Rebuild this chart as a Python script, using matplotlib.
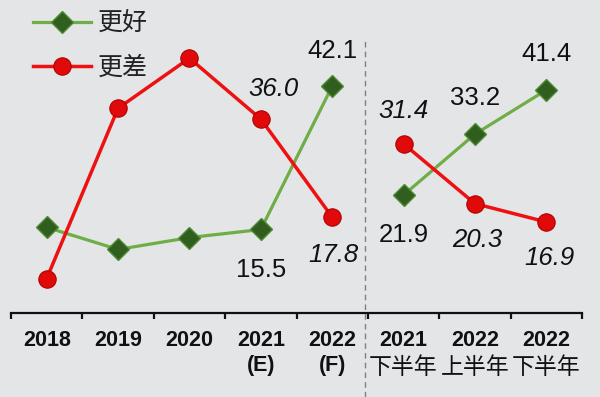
import matplotlib
matplotlib.use("Agg")
import matplotlib.pyplot as plt
import matplotlib.transforms as mtransforms

# ---- data ----
categories = ["2018", "2019", "2020", "2021", "2022", "2021", "2022", "2022"]
sub_labels = ["", "", "", "(E)", "(F)", "下半年", "上半年", "下半年"]
better = [15.9, 11.8, 14.0, 15.5, 42.1, 21.9, 33.2, 41.4]
worse = [6.4, 38.0, 47.3, 36.0, 17.8, 31.4, 20.3, 16.9]
series_names = ["更好", "更差"]
labeled_idx = [3, 4, 5, 6, 7]
segments = [(0, 5), (5, 8)]   # annual part / half-year part

plt.rcParams['font.family'] = ['Liberation Sans', 'Noto Sans CJK SC', 'DejaVu Sans']

bg = '#e4e5e7'
fig = plt.figure(figsize=(6.0, 3.97), dpi=100, facecolor=bg)
ax = fig.add_axes([11/600, 1 - 313/397, 571/600, 313/397])
ax.set_facecolor(bg)

x = list(range(len(categories)))

green_line = '#6fad47'
red_line = '#ee1111'
g_style = dict(color=green_line, lw=2.3, marker='D', ms=11,
               markerfacecolor='#2f5e1f', markeredgecolor='#4f8a34',
               markeredgewidth=1.0, zorder=3)
r_style = dict(color=red_line, lw=2.5, marker='o', ms=12.5,
               markerfacecolor='#e00a0a', markeredgecolor='#b00000',
               markeredgewidth=0.8, zorder=4)

for k, (a, b) in enumerate(segments):
    ax.plot(x[a:b], better[a:b], label=series_names[0] if k == 0 else None, **g_style)
    ax.plot(x[a:b], worse[a:b], label=series_names[1] if k == 0 else None, **r_style)

ax.set_xlim(-0.5, 7.5)
ax.set_ylim(0, 58.1)

# data labels
g_off = {3: (0, -29), 4: (0, 25), 5: (0, -29), 6: (0, 26), 7: (0, 26)}
r_off = {3: (9, 22), 4: (1, -27), 5: (0, 24), 6: (2, -26), 7: (2, -26)}
for i in labeled_idx:
    ax.annotate(f"{better[i]:.1f}", xy=(x[i], better[i]), xytext=g_off[i],
                textcoords='offset points', ha='center', va='center',
                fontsize=18.5, color='#111111', zorder=6)
    ax.annotate(f"{worse[i]:.1f}", xy=(x[i], worse[i]), xytext=r_off[i],
                textcoords='offset points', ha='center', va='center',
                fontsize=18.5, style='italic', color='#111111', zorder=6)

# axes styling
for s in ['top', 'right', 'left']:
    ax.spines[s].set_visible(False)
ax.spines['bottom'].set_linewidth(1.6)
ax.spines['bottom'].set_color('#111111')
ax.set_yticks([])
ax.set_xticks([i - 0.5 for i in range(len(categories) + 1)])
ax.set_xticklabels([])
ax.tick_params(axis='x', which='major', direction='out', length=4, width=1.6, color='#111111')
ax.set_xticks(x, minor=True)
ax.set_xticklabels(categories, minor=True, fontsize=15.5, fontweight='bold', color='#111111')
ax.tick_params(axis='x', which='minor', length=0, pad=12.5)

trans = mtransforms.blended_transform_factory(ax.transData, ax.transAxes)
for i, s in enumerate(sub_labels):
    if not s:
        continue
    if s.startswith('('):
        ax.text(x[i], -53/313, s, transform=trans, ha='center', va='center',
                fontsize=15.5, fontweight='bold', color='#111111')
    else:
        ax.text(x[i], -54/313, s, transform=trans, ha='center', va='center',
                fontsize=16.5, color='#111111', family=['Noto Sans CJK SC', 'DejaVu Sans'])

# dashed separator
ax.plot([4.46, 4.46], [-84/313, 273/313], transform=trans, clip_on=False,
        color='#808080', lw=1.0, ls=(0, (4, 3)), zorder=1)

leg = ax.legend(loc='upper left', bbox_to_anchor=(33/600, 1 - 11/397),
                bbox_transform=fig.transFigure, frameon=False,
                prop={'family': ['Noto Sans CJK SC', 'DejaVu Sans'], 'size': 18},
                handlelength=2.3, handletextpad=0.3, labelspacing=0.72,
                borderpad=0, borderaxespad=0)
for t in leg.get_texts():
    t.set_color('#222222')

fig.savefig('out.png', dpi=100, facecolor=bg)
